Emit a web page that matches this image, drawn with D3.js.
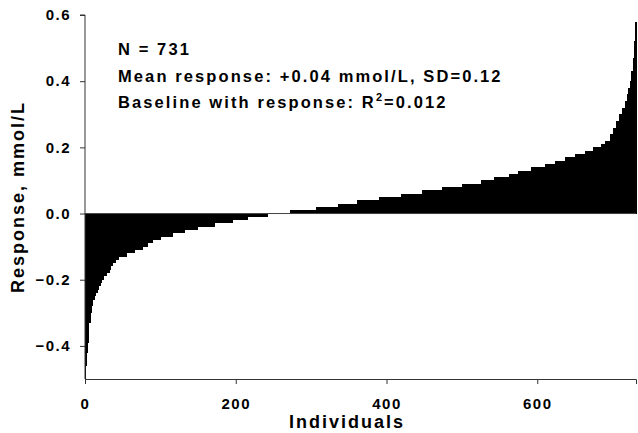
<!DOCTYPE html>
<html>
<head>
<meta charset="utf-8">
<script src="https://cdn.jsdelivr.net/npm/d3@7"></script>
<style>
  body { margin: 0; background: #fff; }
  text { font-family: "Liberation Sans", Arial, sans-serif; font-weight: bold; }
</style>
</head>
<body>
<svg id="chart" width="638" height="433"></svg>
<script>
// sorted responses: each level holds until the given cumulative rank
const levels =   [-0.50, -0.46, -0.42, -0.39, -0.36, -0.33, -0.30, -0.28, -0.26, -0.25, -0.24, -0.23, -0.22, -0.21, -0.20, -0.19, -0.18, -0.17, -0.16, -0.15, -0.14, -0.13, -0.12, -0.11, -0.10, -0.09, -0.08, -0.07, -0.06, -0.05, -0.04, -0.03, -0.02, -0.01, 0.00, 0.01, 0.02, 0.03, 0.04, 0.05, 0.06, 0.07, 0.08, 0.09, 0.10, 0.11, 0.12, 0.13, 0.14, 0.15, 0.16, 0.17, 0.18, 0.19, 0.20, 0.21, 0.22, 0.24, 0.26, 0.28, 0.30, 0.32, 0.34, 0.36, 0.38, 0.40, 0.43, 0.47, 0.52, 0.58]
const endRanks = [1, 2, 3, 4, 5, 7, 8, 10, 12, 14, 16, 18, 20, 22, 24, 28, 32, 34, 37, 40, 44, 55, 66, 76, 83, 90, 100, 116, 132, 149, 172, 195, 215, 242, 272, 307, 335, 361, 390, 419, 447, 473, 500, 525, 542, 562, 575, 592, 610, 624, 637, 650, 663, 674, 684, 690, 696, 701, 705, 709, 713, 716, 719, 721, 723, 725, 727, 729, 730, 731]
const xTicks = [0, 200, 400, 600]
const yTicks = [-0.4, -0.2, 0.0, 0.2, 0.4, 0.6]
const notes = ['N = 731', 'Mean response: +0.04 mmol/L, SD=0.12']

// expand steps into one value per individual
const values = []
levels.forEach((v, i) => {
    const start = i === 0 ? 0 : endRanks[i - 1]
    for (let k = start; k < endRanks[i]; k++) values.push(v)
})

const margin = {left: 85, right: 2, top: 15, bottom: 54}
const width = 638, height = 433
const svg = d3.select('#chart')

const x = d3.scaleLinear().domain([0, values.length]).range([margin.left, width - margin.right])
const y = d3.scaleLinear().domain([-0.5, 0.6]).range([height - margin.bottom, margin.top])
const barW = x(1) - x(0)

// bars
svg.append('g').attr('shape-rendering', 'crispEdges')
    .selectAll('rect').data(values).enter().append('rect')
    .attr('x', (d, i) => x(i))
    .attr('width', barW + 0.6)
    .attr('y', d => y(Math.max(0, d)))
    .attr('height', d => Math.abs(y(d) - y(0)))
    .attr('fill', '#000')

// zero line
svg.append('line')
    .attr('x1', margin.left).attr('x2', width - margin.right)
    .attr('y1', y(0)).attr('y2', y(0))
    .attr('stroke', '#444').attr('stroke-width', 1)

// axes
const yAxis = svg.append('g')
    .attr('transform', `translate(${margin.left},0)`)
    .call(d3.axisLeft(y).tickValues(yTicks).tickSize(5).tickFormat(d3.format('.1f')))
const xAxis = svg.append('g')
    .attr('transform', `translate(0,${height - margin.bottom})`)
    .call(d3.axisBottom(x).tickValues(xTicks).tickSize(5).tickFormat(d3.format('d')))
;[xAxis, yAxis].forEach(a => {
    a.select('.domain').attr('stroke', '#333')
    a.selectAll('.tick line').attr('stroke', '#333')
    a.selectAll('text').attr('fill', '#000').style('font-size', '15px').style('letter-spacing', '1.5px')
})
yAxis.selectAll('text').attr('x', -14)
xAxis.selectAll('text').attr('y', 19)
yAxis.select('.domain').attr('d', `M-5,${y(0.6)}H0V${y(-0.5)}`)

// axis titles
svg.append('text')
    .attr('x', 347).attr('y', 428)
    .attr('text-anchor', 'middle')
    .style('font-size', '18px').style('letter-spacing', '2px')
    .text('Individuals')
svg.append('text')
    .attr('transform', `translate(24,${(y(0.6) + y(-0.5)) / 2}) rotate(-90)`)
    .attr('text-anchor', 'middle')
    .style('font-size', '18px').style('letter-spacing', '2px')
    .text('Response, mmol/L')

// annotations
const note = svg.append('g').style('font-size', '16.5px').style('letter-spacing', '2.1px')
notes.forEach((t, i) => {
    note.append('text').attr('x', 118).attr('y', 55 + i * 26.5).text(t)
})
const r2 = note.append('text').attr('x', 118).attr('y', 108)
r2.append('tspan').text('Baseline with response: R')
r2.append('tspan').attr('dy', -7).style('font-size', '11px').text('2')
r2.append('tspan').attr('dy', 7).text('=0.012')
</script>
</body>
</html>
